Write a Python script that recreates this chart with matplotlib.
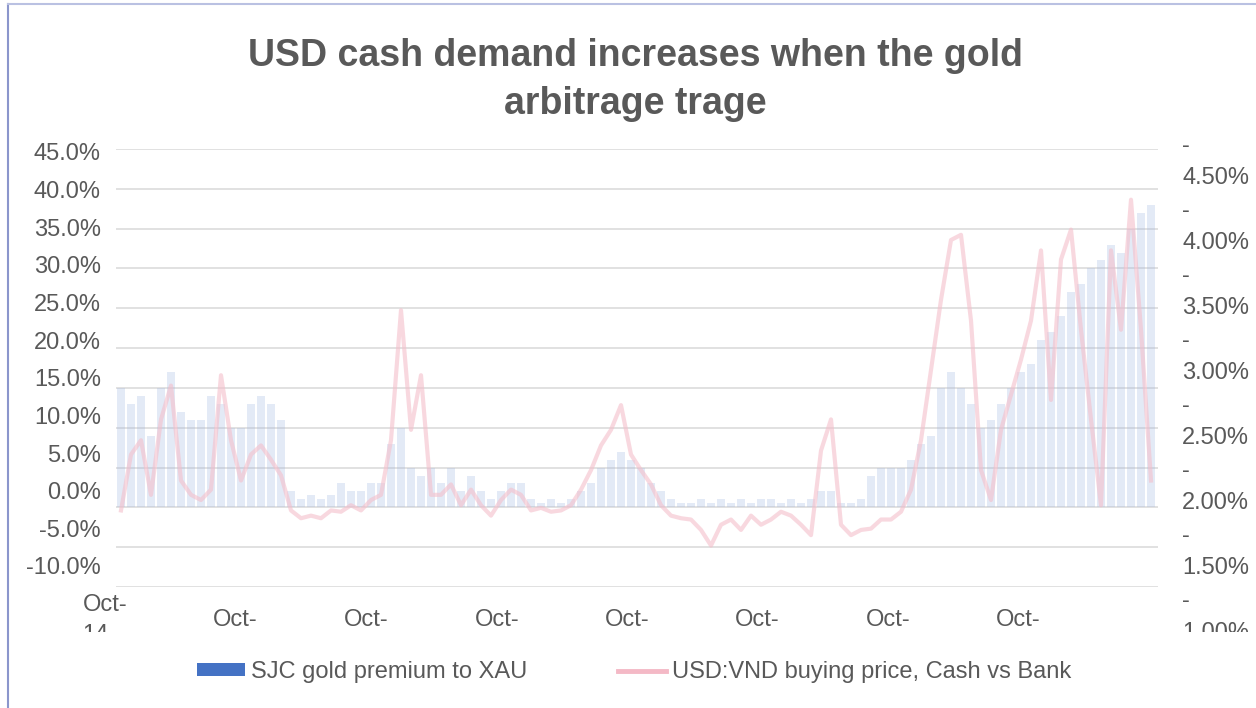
import matplotlib
matplotlib.use("Agg")
import matplotlib.pyplot as plt
from matplotlib.lines import Line2D
from matplotlib.patches import Patch
from matplotlib.transforms import Bbox
import numpy as np

plt.rcParams['font.family'] = ['Liberation Sans', 'DejaVu Sans']

TEXT = '#595959'
W, H = 1256, 708

# SJC gold premium to XAU (%), roughly every four weeks from late 2014
sjc_premium = [
    15, 13, 14, 9, 15, 17, 12, 11, 11, 14,
    13, 10, 10, 13, 14, 13, 11, 2, 1, 1.5,
    1, 1.5, 3, 2, 2, 3, 3, 8, 10, 5,
    4, 5, 3, 5, 2, 4, 2, 1, 2, 3,
    3, 1, 0.5, 1, 0.5, 1, 2, 3, 5, 6,
    7, 6, 5, 3, 2, 1, 0.5, 0.5, 1, 0.5,
    1, 0.5, 1, 0.5, 1, 1, 0.5, 1, 0.5, 1,
    2, 2, 0.5, 0.5, 1, 4, 5, 5, 5, 6,
    8, 9, 15, 17, 15, 13, 10, 11, 13, 15,
    17, 18, 21, 22, 24, 27, 28, 30, 31, 33,
    32, 35, 37, 38,
]

# USD:VND buying price, cash vs bank (%), same dates
usd_cash_spread = [
    1.82, 2.25, 2.36, 1.94, 2.52, 2.78, 2.05, 1.94, 1.90, 1.98,
    2.86, 2.36, 2.05, 2.25, 2.32, 2.21, 2.09, 1.82, 1.76, 1.78,
    1.76, 1.82, 1.81, 1.86, 1.82, 1.90, 1.94, 2.36, 3.36, 2.44,
    2.86, 1.94, 1.94, 2.02, 1.86, 1.98, 1.86, 1.78, 1.90, 1.98,
    1.94, 1.82, 1.84, 1.81, 1.82, 1.86, 1.98, 2.13, 2.32, 2.44,
    2.63, 2.25, 2.13, 2.02, 1.86, 1.78, 1.76, 1.75, 1.67, 1.55,
    1.71, 1.75, 1.67, 1.78, 1.71, 1.75, 1.81, 1.78, 1.71, 1.63,
    2.28, 2.52, 1.71, 1.63, 1.67, 1.68, 1.75, 1.75, 1.81, 1.98,
    2.36, 2.90, 3.44, 3.90, 3.94, 3.28, 2.13, 1.90, 2.44, 2.71,
    2.98, 3.28, 3.82, 2.67, 3.75, 3.98, 3.21, 2.52, 1.86, 3.82,
    3.21, 4.21, 3.21, 2.05,
]

left_ticks = [-10, -5, 0, 5, 10, 15, 20, 25, 30, 35, 40, 45]
right_ticks = [1.0, 1.5, 2.0, 2.5, 3.0, 3.5, 4.0, 4.5]
date_ticks = [-1.6, 11.4, 24.5, 37.6, 50.6, 63.6, 76.7, 89.7]
date_labels = ['Oct-\n14'] + ['Oct-'] * 7


def box(l, t, r, b):
    # pixel edges (from top-left) -> figure fraction rect
    return [l / W, 1 - b / H, (r - l) / W, (b - t) / H]


def hide_frame(a):
    a.patch.set_visible(False)
    for s in a.spines.values():
        s.set_visible(False)


fig = plt.figure(figsize=(W / 100, H / 100), dpi=100)
label_clip = Bbox.from_extents(0, H - 632, W, H)

x = np.arange(len(sjc_premium))

# bars on the left scale, grid behind
ax = fig.add_axes(box(116, 149, 1158, 587))
ax.bar(x, sjc_premium, width=0.75, color='#9DB5E0', alpha=0.28, linewidth=0)
ax.set_xlim(-0.5, 103.7)
ax.set_ylim(-10, 45)
ax.set_yticks(left_ticks)
ax.yaxis.grid(True, color='#D9D9D9', linewidth=1.1)
ax.set_axisbelow(True)
ax.tick_params(left=False, bottom=False, labelleft=False, labelbottom=False)
hide_frame(ax)

# cash vs bank spread on the right scale
ax_r = fig.add_axes(box(116, 149, 1158, 645))
ax_r.plot(x, usd_cash_spread, color='#F4BFCB', linewidth=3, alpha=0.6)
ax_r.set_xlim(-0.5, 103.7)
ax_r.set_ylim(0.785, 4.6)
ax_r.yaxis.tick_right()
ax_r.set_yticks(right_ticks)
ax_r.set_yticklabels([f'-\n{v:.2f}%' for v in right_ticks])
ax_r.tick_params(axis='y', length=0, pad=17.3, labelsize=17, labelcolor=TEXT)
ax_r.tick_params(axis='x', bottom=False, labelbottom=False)
hide_frame(ax_r)
for lbl in ax_r.get_yticklabels():
    lbl.set_va('center')
    lbl.set_multialignment('left')
    lbl.set_linespacing(1.62)
    lbl.set_clip_box(label_clip)
    lbl.set_clip_on(True)

# left percentage labels
ax_yl = fig.add_axes(box(116, 152, 1158, 566))
ax_yl.set_ylim(-10, 45)
ax_yl.set_yticks(left_ticks)
ax_yl.set_yticklabels([f'{v:.1f}%' for v in left_ticks])
ax_yl.tick_params(axis='y', length=0, pad=10.8, labelsize=17, labelcolor=TEXT)
ax_yl.set_xticks([])
hide_frame(ax_yl)

# date labels
ax_x = fig.add_axes(box(90, 149, 1158, 587))
ax_x.set_xlim(-3.1, 103.7)
ax_x.set_xticks(date_ticks)
ax_x.set_xticklabels(date_labels)
ax_x.tick_params(axis='x', length=0, pad=23.8, labelsize=17, labelcolor=TEXT)
ax_x.set_yticks([])
hide_frame(ax_x)
for lbl in ax_x.get_xticklabels():
    lbl.set_va('center')
    lbl.set_multialignment('left')
    lbl.set_linespacing(1.48)
    lbl.set_clip_box(label_clip)
    lbl.set_clip_on(True)

handles = [Patch(facecolor='#4472C4', edgecolor='none'),
           Line2D([], [], color='#F4B9C6', linewidth=3.5)]
fig.legend(handles, ['SJC gold premium to XAU', 'USD:VND buying price, Cash vs Bank'],
           loc='center', bbox_to_anchor=(634 / W, 1 - 672 / H), ncol=2,
           frameon=False, fontsize=17, labelcolor=TEXT,
           handlelength=2.03, handleheight=0.42, handletextpad=0.25,
           columnspacing=3.85, borderpad=0, borderaxespad=0)

fig.text(635 / W, 1 - 38 / H, 'USD cash demand increases when the gold\narbitrage trage',
         ha='center', va='top', fontsize=27, fontweight='bold', color=TEXT,
         linespacing=1.42)

# chart-area border, left and top edges
fig.add_artist(Line2D([8 / W, 8 / W], [0, 1 - 4 / H], transform=fig.transFigure,
                      color='#8B96CC', linewidth=1.5))
fig.add_artist(Line2D([8 / W, 1], [1 - 4 / H, 1 - 4 / H], transform=fig.transFigure,
                      color='#BAC1E2', linewidth=1.5))

fig.savefig('out.png', dpi=100)
